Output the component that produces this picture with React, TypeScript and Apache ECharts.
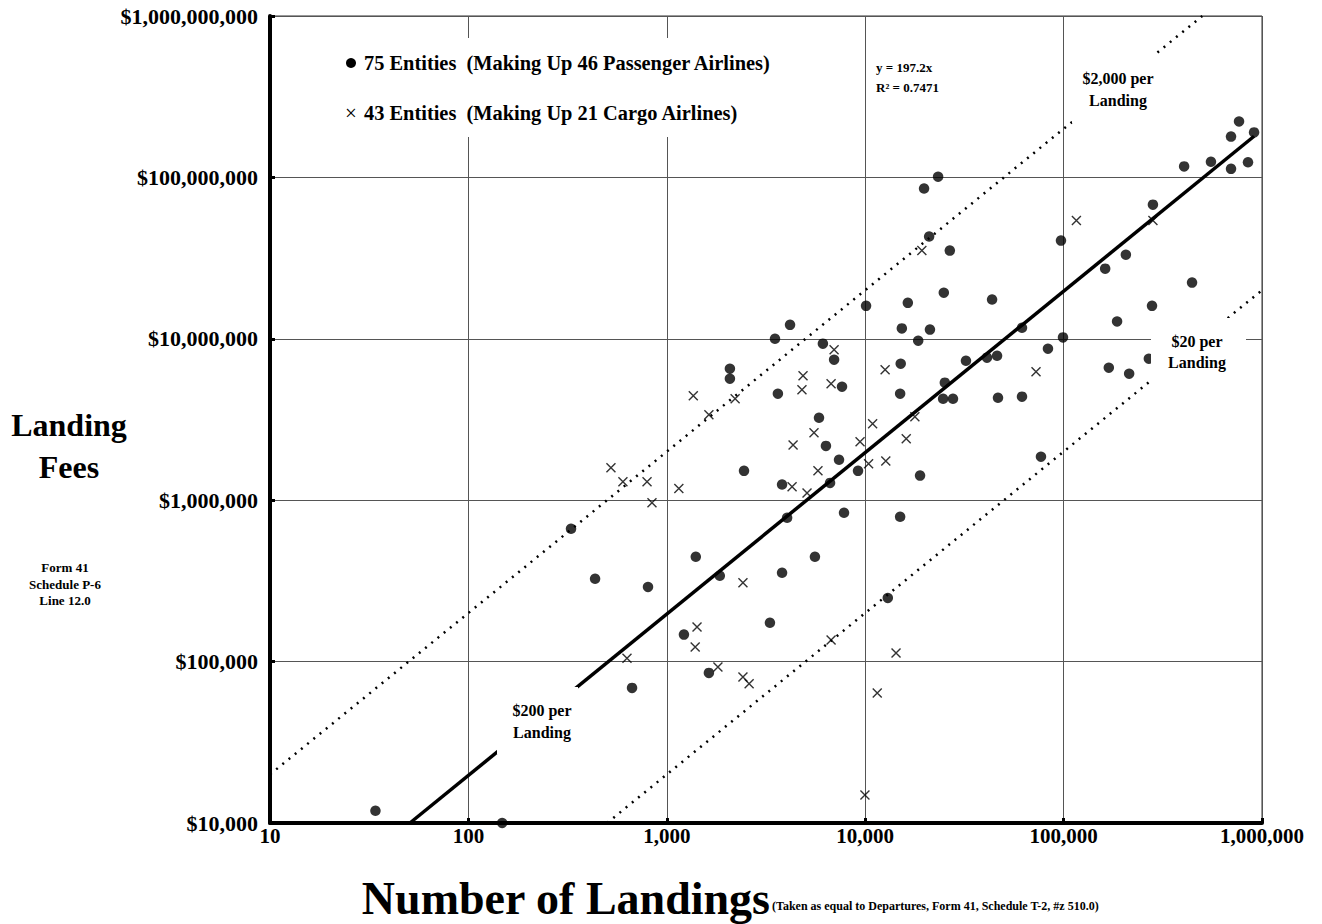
import React, { useEffect, useRef } from "react";
import * as echarts from "echarts";

// Passenger airline entities (filled dots)
const passengerLandings = [
  766000, 698000, 912000, 405000, 553000, 698000, 850000, 282000, 23300, 19800,
  21000, 26700, 10100, 16400, 24900, 43600, 97000, 206000, 162000, 444000,
  279000, 186000, 61700, 99300, 32200, 41100, 46200, 83400, 169000, 214000,
  269000, 46700, 61700, 76900, 4180, 3510, 15300, 21200, 18500, 6120,
  6970, 2080, 2080, 15100, 7640, 3630, 15000, 25200, 24700, 27700,
  5850, 6340, 7380, 9200, 2450, 18900, 3810, 6650, 4040, 7820,
  15000, 1400, 5580, 329, 435, 804, 668, 34, 148, 1850,
  3810, 1220, 3310, 13000, 1630,
];
const passengerFees = [
  222000000, 179000000, 190000000, 117000000, 125000000, 113000000, 124000000, 67800000, 101000000, 85300000,
  43000000, 35200000, 16000000, 16700000, 19300000, 17500000, 40600000, 33200000, 27200000, 22300000,
  16000000, 12800000, 11700000, 10200000, 7310000, 7640000, 7850000, 8680000, 6620000, 6080000,
  7530000, 4310000, 4380000, 1860000, 12200000, 10000000, 11600000, 11400000, 9730000, 9330000,
  7420000, 6530000, 5660000, 7010000, 5050000, 4570000, 4570000, 5350000, 4250000, 4250000,
  3240000, 2170000, 1780000, 1520000, 1520000, 1420000, 1250000, 1280000, 778000, 836000,
  789000, 446000, 446000, 665000, 326000, 290000, 68700, 11900, 10000, 340000,
  355000, 147000, 174000, 248000, 85100,
];

// Cargo airline entities (crosses)
const cargoLandings = [
  19300, 116000, 282000, 6970, 12600, 4860, 4800, 6730, 1360, 1630,
  2210, 17800, 10900, 5520, 4330, 9420, 16100, 10400, 12700, 5780,
  1150, 4280, 5090, 72600, 523, 601, 795, 842, 630, 2420,
  1420, 1390, 6730, 14300, 1810, 2420, 2600, 11500, 9970,
];
const cargoFees = [
  35200000, 54000000, 54000000, 8550000, 6430000, 5900000, 4830000, 5270000, 4440000, 3380000,
  4250000, 3290000, 2980000, 2620000, 2200000, 2300000, 2400000, 1680000, 1750000, 1520000,
  1180000, 1210000, 1110000, 6250000, 1590000, 1300000, 1300000, 964000, 105000, 308000,
  164000, 123000, 136000, 113000, 92700, 80400, 72800, 64000, 14900,
];

const trendSlope = 197.2; // y = 197.2x
const guideRates = [2000, 20]; // $ per landing reference lines
const xTicks = [10, 100, 1000, 10000, 100000, 1000000];
const yTicks = [10000, 100000, 1000000, 10000000, 100000000, 1000000000];

const FONT = "'Liberation Serif', 'Times New Roman', Times, serif";

export default function App() {
  const ref = useRef<HTMLDivElement>(null);

  useEffect(() => {
    document.body.style.margin = "0";
    const chart = echarts.init(ref.current!, null, { renderer: "svg" });
    const xMin = xTicks[0];
    const xMax = xTicks[xTicks.length - 1];
    const yMin = yTicks[0];
    const yMax = yTicks[yTicks.length - 1];

    const segment = (rate: number, lo: number, hi: number) => {
      const x0 = Math.max(lo, yMin / rate);
      const x1 = Math.min(hi, yMax / rate);
      return [
        [x0, rate * x0],
        [x1, rate * x1],
      ];
    };
    const allX = passengerLandings.concat(cargoLandings);
    const trend = segment(trendSlope, Math.min(...allX), Math.max(...allX));

    const bold = (size: number) => ({
      fontFamily: FONT,
      fontWeight: "bold",
      fontSize: size,
      fill: "#000",
    });

    const option: any = {
      animation: false,
      backgroundColor: "#fff",
      grid: {
        left: 270,
        right: 60,
        top: 16,
        bottom: 101,
        show: true,
        borderColor: "#333",
        borderWidth: 1,
      },
      xAxis: {
        type: "log",
        logBase: 10,
        min: xMin,
        max: xMax,
        axisLine: { show: true, onZero: false, lineStyle: { color: "#000", width: 4 } },
        axisTick: { show: true, inside: true, length: 5, lineStyle: { color: "#000", width: 3 } },
        splitLine: { show: true, lineStyle: { color: "#555", width: 1 } },
        axisLabel: {
          fontFamily: FONT,
          fontWeight: "bold",
          fontSize: 21,
          color: "#000",
          margin: 2,
          formatter: (v: number) => Math.round(v).toLocaleString("en-US"),
        },
      },
      yAxis: {
        type: "log",
        logBase: 10,
        min: yMin,
        max: yMax,
        axisLine: { show: true, onZero: false, lineStyle: { color: "#000", width: 4 } },
        axisTick: { show: true, inside: true, length: 5, lineStyle: { color: "#000", width: 3 } },
        splitLine: { show: true, lineStyle: { color: "#555", width: 1 } },
        axisLabel: {
          fontFamily: FONT,
          fontWeight: "bold",
          fontSize: 22,
          color: "#000",
          margin: 12,
          formatter: (v: number) => "$" + Math.round(v).toLocaleString("en-US"),
        },
      },
      series: [
        {
          type: "line",
          data: segment(guideRates[0], xMin, xMax),
          showSymbol: false,
          lineStyle: { color: "#000", width: 2.5, type: [2, 6] },
          z: 3,
        },
        {
          type: "line",
          data: segment(guideRates[1], xMin, xMax),
          showSymbol: false,
          lineStyle: { color: "#000", width: 2.5, type: [2, 6] },
          z: 3,
        },
        {
          type: "line",
          data: trend,
          showSymbol: false,
          lineStyle: { color: "#000", width: 3.5 },
          z: 3,
        },
        {
          type: "scatter",
          data: passengerLandings.map((x, i) => [x, passengerFees[i]]),
          symbol: "circle",
          symbolSize: 10.5,
          itemStyle: { color: "#000" },
          z: 5,
        },
        {
          type: "scatter",
          data: cargoLandings.map((x, i) => [x, cargoFees[i]]),
          symbol: "path://M0,0L10,10M10,0L0,10",
          symbolSize: 9,
          itemStyle: { color: "none", borderColor: "#000", borderWidth: 1.4 },
          z: 5,
        },
      ],
      graphic: [
        // legend box
        { type: "rect", z: 100, shape: { x: 330, y: 38, width: 460, height: 99 }, style: { fill: "#fff" } },
        { type: "circle", z: 101, shape: { cx: 351, cy: 63, r: 5 }, style: { fill: "#000" } },
        {
          type: "text", z: 101, x: 364, y: 63,
          style: { ...bold(20.4), text: "75 Entities  (Making Up 46 Passenger Airlines)", verticalAlign: "middle" },
        },
        {
          type: "text", z: 101, x: 351, y: 113,
          style: { ...bold(21), fontWeight: "normal", text: "×", align: "center", verticalAlign: "middle" },
        },
        {
          type: "text", z: 101, x: 364, y: 113,
          style: { ...bold(20.4), text: "43 Entities  (Making Up 21 Cargo Airlines)", verticalAlign: "middle" },
        },
        // equation
        {
          type: "text", z: 101, x: 876, y: 67,
          style: { ...bold(13), text: "y = 197.2x", verticalAlign: "middle" },
        },
        {
          type: "text", z: 101, x: 876, y: 87,
          style: { ...bold(13), text: "R² = 0.7471", verticalAlign: "middle" },
        },
        // $2,000 label
        { type: "rect", z: 100, shape: { x: 1072, y: 55, width: 86, height: 68 }, style: { fill: "#fff" } },
        {
          type: "text", z: 101, x: 1118, y: 89,
          style: { ...bold(16), text: "$2,000 per\nLanding", align: "center", verticalAlign: "middle", lineHeight: 22 },
        },
        // $20 label
        { type: "rect", z: 100, shape: { x: 1151, y: 318, width: 95, height: 67 }, style: { fill: "#fff" } },
        {
          type: "text", z: 101, x: 1197, y: 352,
          style: { ...bold(16), text: "$20 per\nLanding", align: "center", verticalAlign: "middle", lineHeight: 21 },
        },
        // $200 label
        { type: "rect", z: 100, shape: { x: 497, y: 687, width: 81, height: 67 }, style: { fill: "#fff" } },
        {
          type: "text", z: 101, x: 542, y: 721,
          style: { ...bold(16), text: "$200 per\nLanding", align: "center", verticalAlign: "middle", lineHeight: 22 },
        },
        // y axis title
        {
          type: "text", z: 101, x: 69, y: 446,
          style: { ...bold(32), text: "Landing\nFees", align: "center", verticalAlign: "middle", lineHeight: 42 },
        },
        {
          type: "text", z: 101, x: 65, y: 584,
          style: { ...bold(13), text: "Form 41\nSchedule P-6\nLine 12.0", align: "center", verticalAlign: "middle", lineHeight: 16.5 },
        },
        // x axis title
        {
          type: "text", z: 101, x: 770, y: 898,
          style: { ...bold(46), text: "Number of Landings", align: "right", verticalAlign: "middle" },
        },
        {
          type: "text", z: 101, x: 772, y: 906,
          style: { ...bold(12), text: "(Taken as equal to Departures, Form 41, Schedule T-2, #z 510.0)", align: "left", verticalAlign: "middle" },
        },
      ],
    };

    chart.setOption(option);
    return () => chart.dispose();
  }, []);

  return (
    <div
      ref={ref}
      style={{ position: "fixed", left: 0, top: 0, width: 1322, height: 924, background: "#fff" }}
    />
  );
}
